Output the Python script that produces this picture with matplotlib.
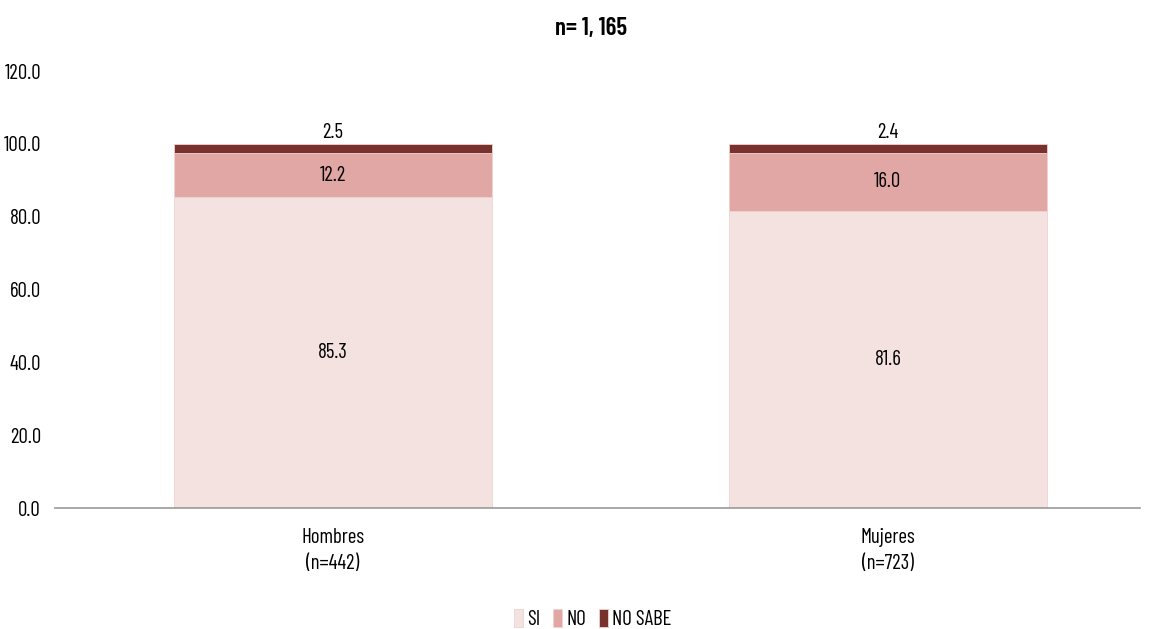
import matplotlib.pyplot as plt
import numpy as np

categories = ["Hombres\n(n=442)", "Mujeres\n(n=723)"]
si = [85.3, 81.6]
no = [12.2, 16.0]
no_sabe = [2.5, 2.4]
series_names = ["SI", "NO", "NO SABE"]
colors = ["#F4E2E0", "#E1A7A4", "#79312E"]
yticks = [0, 20, 40, 60, 80, 100, 120]

plt.rcParams["font.family"] = ["Barlow Condensed", "Archivo Narrow", "DejaVu Sans"]
plt.rcParams["font.size"] = 15

fig = plt.figure(figsize=(11.55, 6.29), dpi=100)
ax = fig.add_axes([0.0476, 0.192, 0.9394, 0.695])

x = np.arange(len(categories))
w = 0.573
bottom = np.zeros(len(categories))
for name, vals, c in zip(series_names, [si, no, no_sabe], colors):
    ax.bar(x, vals, w, bottom=bottom, color=c, label=name, edgecolor="#efd3d1", linewidth=0.6)
    for xi, b, v in zip(x, bottom, vals):
        if v < 5:
            ax.text(xi, b + v + 0.6, f"{v:.1f}", ha="center", va="bottom")
        else:
            ax.text(xi, b + v / 2, f"{v:.1f}", ha="center", va="center")
    bottom += np.array(vals)

ax.set_xlim(-0.5, 1.454)
ax.set_ylim(0, 120)
ax.set_yticks(yticks)
ax.set_yticklabels([f"{t:.1f}" for t in yticks])
ax.set_xticks(x)
ax.set_xticklabels(categories, linespacing=1.5)
ax.tick_params(axis="both", length=0, labelsize=15)
ax.tick_params(axis="y", pad=10)
ax.tick_params(axis="x", pad=14)
for s in ["top", "right", "left"]:
    ax.spines[s].set_visible(False)
ax.spines["bottom"].set_color("#999999")
ax.spines["bottom"].set_linewidth(1.2)

fig.text(0.512, 0.955, "n= 1, 165", ha="center", va="center", fontsize=18, fontweight="semibold")

fig.legend(loc="lower center", bbox_to_anchor=(0.513, -0.03), ncol=3, frameon=False,
           handlelength=0.45, handleheight=0.9, handletextpad=0.2, columnspacing=0.6, fontsize=15)

fig.savefig("out.png", dpi=100)
